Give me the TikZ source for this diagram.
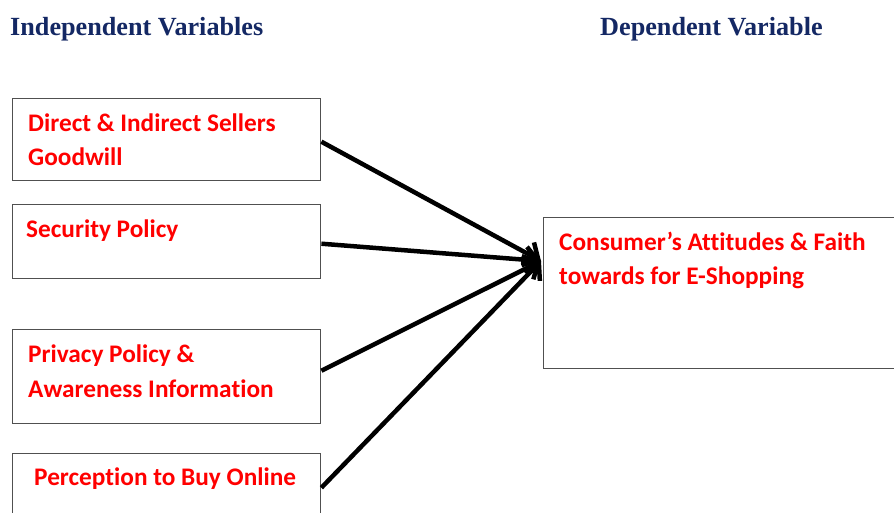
\documentclass[tikz,border=0pt]{standalone}
\usepackage{fontspec}
\setmainfont{Carlito}[Ligatures={NoCommon,NoContextual}]
\newfontfamily\headfont{Liberation Serif}
\usetikzlibrary{arrows.meta}
\definecolor{navy}{RGB}{20,40,100}
\definecolor{boxgray}{RGB}{80,80,80}
\begin{document}
\begin{tikzpicture}[x=1pt,y=-1pt,
  box/.style={draw=boxgray,line width=1.4pt,anchor=north west,inner sep=0pt},
  lbl/.style={anchor=base west,inner sep=0pt,text=red,font=\fontsize{25.3}{30}\selectfont\bfseries},
  head/.style={anchor=base west,inner sep=0pt,text=navy,font=\headfont\fontsize{26.2}{30}\selectfont\bfseries},
  link/.style={line width=4.5pt,-{Straight Barb[length=12pt,width=26pt]}}]
\useasboundingbox (0,0) rectangle (894,512);
% headings
\node[head] (hind) at (10,35) {Independent Variables};
\node[head] (hdep) at (600,35) {Dependent Variable};
% left boxes
\node[box,minimum width=308pt,minimum height=82pt] (b1) at (12,98) {};
\node[box,minimum width=308pt,minimum height=74pt] (b2) at (12,204) {};
\node[box,minimum width=308pt,minimum height=94pt] (b3) at (12,329) {};
\node[box,minimum width=308pt,minimum height=66pt] (b4) at (12,453) {};
% right box
\node[box,minimum width=360pt,minimum height=151pt] (dv) at (543,217) {};
% labels
\node[lbl] (t1a) at (28,131) {Direct \& Indirect Sellers};
\node[lbl] (t1b) at (28,165) {Goodwill};
\node[lbl] (t2) at (26,237) {Security Policy};
\node[lbl] (t3a) at (28,362) {Privacy Policy \&};
\node[lbl] (t3b) at (28,397) {Awareness Information};
\node[lbl] (t4) at (34,485) {Perception to Buy Online};
\node[lbl] (tda) at (559,250) {Consumer’s Attitudes \& Faith};
\node[lbl] (tdb) at (559,284) {towards for E-Shopping};
% connectors
\coordinate (tip) at (541,261);
\draw[link] ([yshift=-2pt]b1.east) -- (tip);
\draw[link] ([yshift=-2pt]b2.east) -- (tip);
\draw[link] ([yshift=6pt]b3.east) -- (tip);
\draw[link] ([yshift=-1pt]b4.east) -- (tip);
\end{tikzpicture}
\end{document}
